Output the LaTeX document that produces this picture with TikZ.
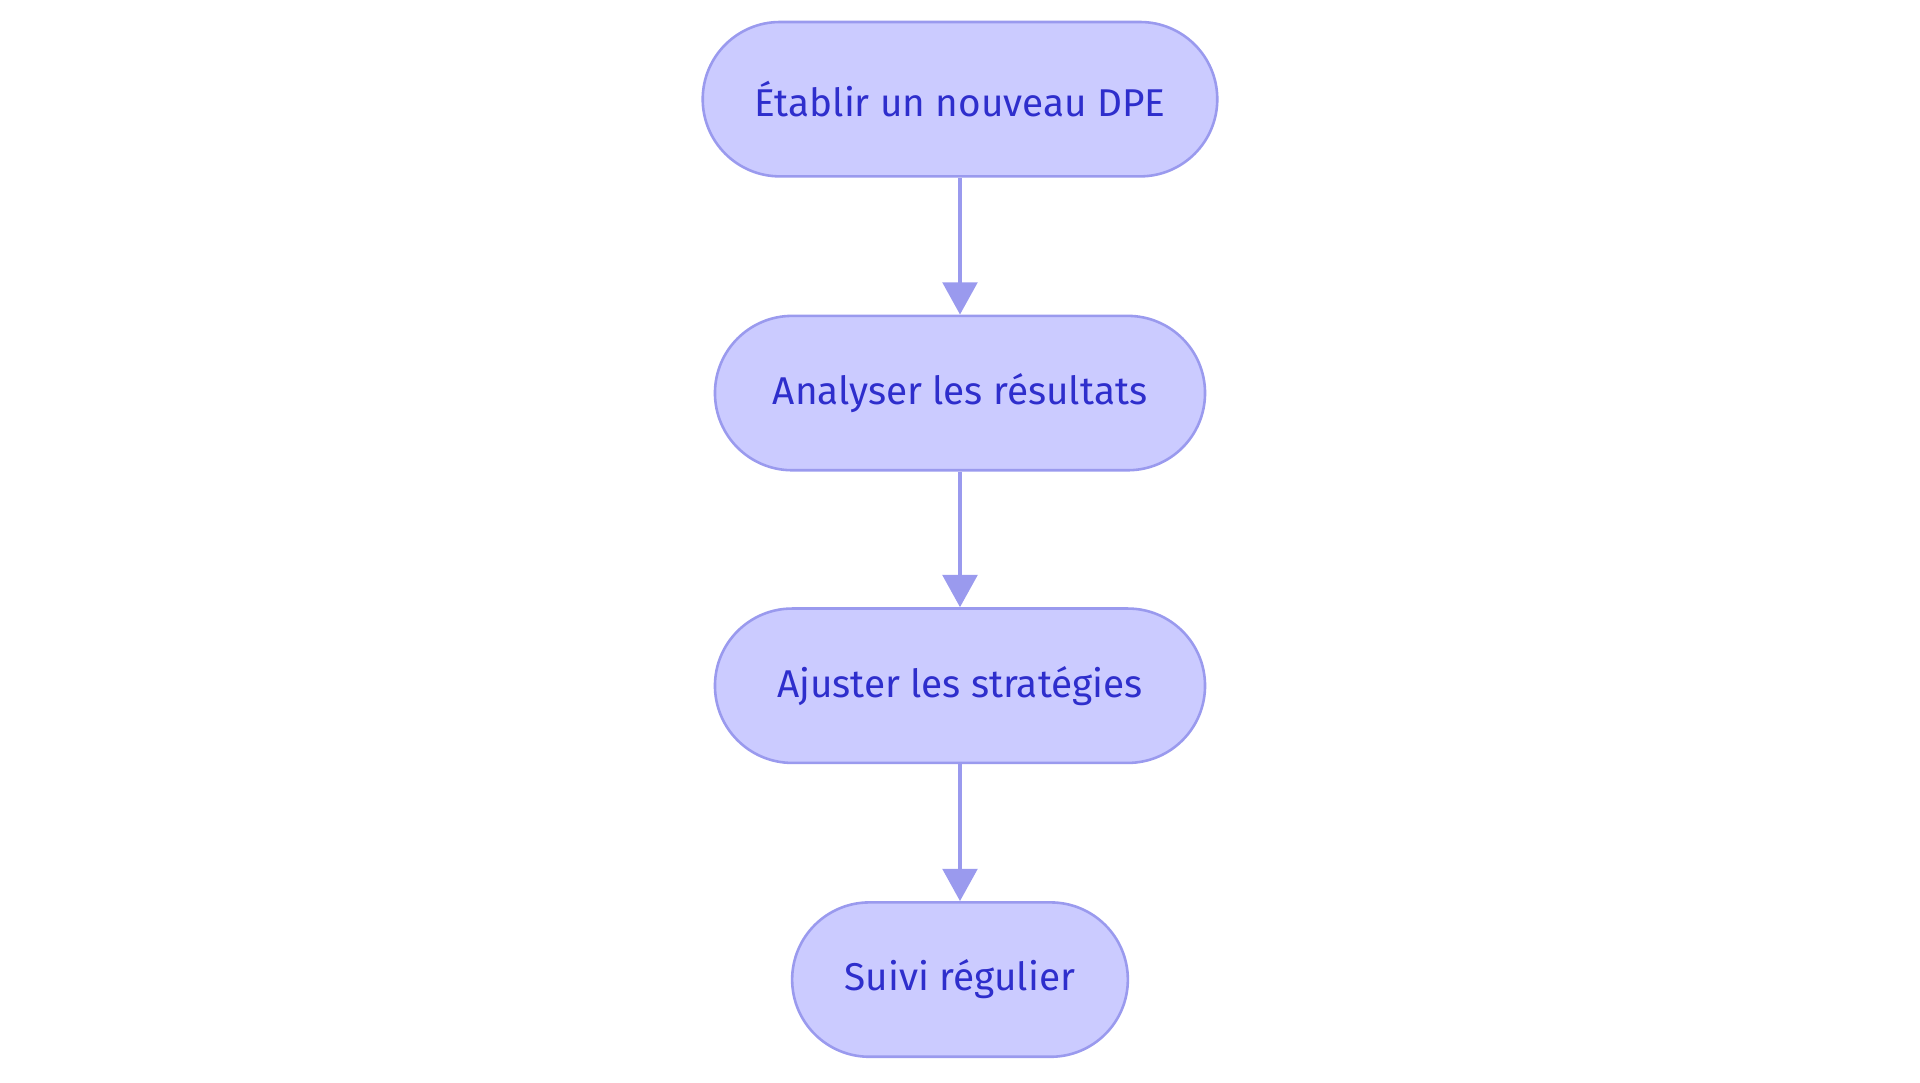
\documentclass[tikz,border=0pt]{standalone}
\usepackage{fontspec}
\setmainfont{Fira Sans}
\usetikzlibrary{arrows.meta,positioning}
\definecolor{stepfill}{HTML}{CBCBFF}
\definecolor{stepdraw}{HTML}{9A9AEE}
\definecolor{steptext}{HTML}{2E2ECC}
\begin{document}
\begin{tikzpicture}[
    x=0.01cm, y=-0.01cm,
    stage/.style={rectangle, draw=stepdraw, fill=stepfill, line width=0.6pt,
      minimum height=1.26cm, rounded corners=0.63cm,
      text=steptext, font=\fontsize{9}{11}\selectfont, inner sep=0pt},
    arr/.style={-{Triangle[length=7.5pt, width=8pt]}, line width=1pt, stepdraw},
  ]
    \useasboundingbox (0,0) rectangle (1568,884);
    % Nodes
    \node[stage, minimum width=4.2cm] (dpe) at (784,81) {Établir un nouveau DPE};
    \node[stage, minimum width=4.0cm] (analyse) at (784,321) {Analyser les résultats};
    \node[stage, minimum width=4.0cm] (ajuste) at (784,560) {Ajuster les stratégies};
    \node[stage, minimum width=2.74cm] (suivi) at (784,800) {Suivi régulier};

    % Arrows
    \draw[arr] (dpe) -- (analyse);
    \draw[arr] (analyse) -- (ajuste);
    \draw[arr] (ajuste) -- (suivi);
\end{tikzpicture}
\end{document}
